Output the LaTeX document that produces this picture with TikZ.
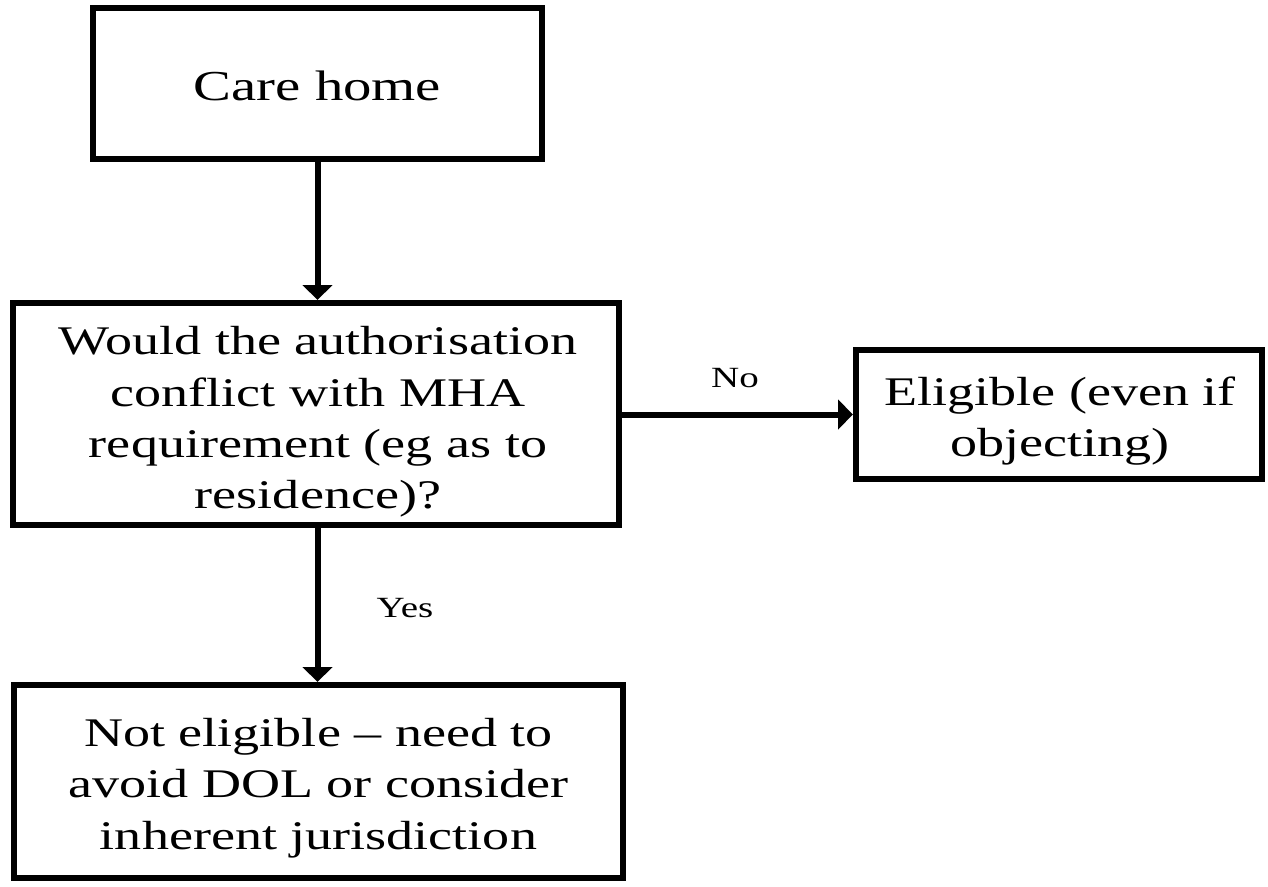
\documentclass[tikz,border=0pt]{standalone}
\usepackage{fontspec}
\setmainfont{Liberation Serif}[FakeStretch=1.33]
\usetikzlibrary{arrows.meta}
\tikzset{
  box/.style={draw=black, line width=4.8pt, fill=white, inner sep=0pt},
  txt/.style={inner sep=0pt, align=center, font=\fontsize{30.5}{38.5}\selectfont},
  conn/.style={line width=4.5pt, -{Triangle[width=22pt,length=11pt]}},
  lbl/.style={font=\fontsize{22}{26}\selectfont, inner sep=0pt},
}
\begin{document}
\begin{tikzpicture}[x=0.75pt,y=-0.75pt]
\useasboundingbox (0,0) rectangle (1268,886);
\node[box, minimum width=449*0.75pt, minimum height=151*0.75pt] (care) at (317.5,83.5) {};
\node[box, minimum width=606*0.75pt, minimum height=222*0.75pt] (q) at (316,414) {};
\node[box, minimum width=406*0.75pt, minimum height=129*0.75pt] (elig) at (1059,414.5) {};
\node[box, minimum width=609*0.75pt, minimum height=193*0.75pt] (noel) at (318.5,781.5) {};
\node[txt, font=\fontsize{32}{38.5}\selectfont] (caret) at (317.5,86) {Care home};
\node[txt] (qt) at (318,422) {Would the authorisation\\conflict with MHA\\requirement (eg as to\\residence)?};
\node[txt] (eligt) at (1060,421) {Eligible (even if\\objecting)};
\node[txt] (noelt) at (318.5,788) {Not eligible -- need to\\avoid DOL or consider\\inherent jurisdiction};
\draw[conn] (care.south) -- (care.south |- q.north);
\draw[conn] (q.east |- elig.west) -- (elig.west);
\draw[conn] (care.south |- q.south) -- (care.south |- noel.north);
\node[lbl] (no) at (735,378) {No};
\node[lbl] (yes) at (405,608) {Yes};
\end{tikzpicture}
\end{document}
